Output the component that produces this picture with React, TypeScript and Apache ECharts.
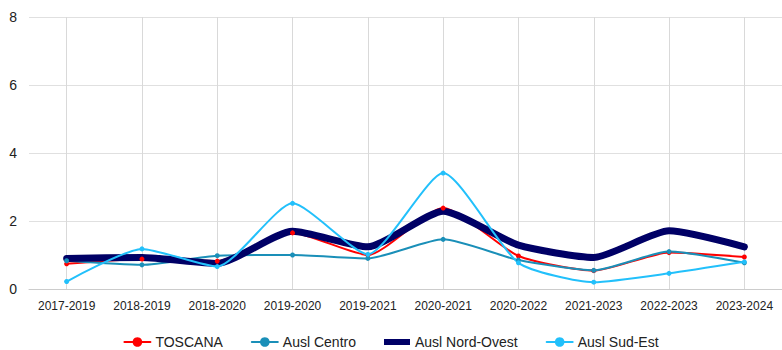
import React, { useEffect, useRef } from "react";
import * as echarts from "echarts";

const categories = [
  "2017-2019", "2018-2019", "2018-2020", "2019-2020", "2019-2021",
  "2020-2021", "2020-2022", "2021-2023", "2022-2023", "2023-2024",
];
const toscana = [0.74, 0.88, 0.82, 1.65, 1.0, 2.38, 0.97, 0.54, 1.07, 0.94];
const auslCentro = [0.83, 0.71, 0.98, 1.0, 0.9, 1.46, 0.85, 0.55, 1.1, 0.77];
const auslNordOvest = [0.9, 0.93, 0.75, 1.7, 1.24, 2.29, 1.29, 0.93, 1.71, 1.24];
const auslSudEst = [0.22, 1.18, 0.66, 2.52, 1.02, 3.41, 0.77, 0.2, 0.46, 0.8];
const seriesNames = ["TOSCANA", "Ausl Centro", "Ausl Nord-Ovest", "Ausl Sud-Est"];

export default function App() {
  const ref = useRef<HTMLDivElement>(null);
  useEffect(() => {
    if (!ref.current) return;
    const chart = echarts.init(ref.current, undefined, { renderer: "svg" });
    const font = "Liberation Sans, Arial, sans-serif";
    const mk = (name: string, data: number[], color: string, width: number, symbolSize: number, showSymbol = true) => ({
      name,
      type: "line",
      data,
      smooth: 0.2,
      symbol: "circle",
      symbolSize,
      showSymbol,
      lineStyle: { color, width, cap: "round", join: "round" },
      itemStyle: { color },
    });
    chart.setOption({
      animation: false,
      textStyle: { fontFamily: font },
      grid: { left: 29, right: -6, top: 17, bottom: 61, containLabel: false },
      legend: {
        top: 334,
        left: "center",
        padding: 0,
        itemWidth: 26,
        itemHeight: 12,
        itemGap: 28,
        symbolKeepAspect: true,
        textStyle: { fontSize: 14, color: "#222", fontFamily: font, lineHeight: 16 },
        data: [
          { name: seriesNames[0] },
          { name: seriesNames[1] },
          { name: seriesNames[2], icon: "path://M0 0H26V6H0Z" },
          { name: seriesNames[3] },
        ],
      },
      xAxis: {
        type: "category",
        data: categories,
        boundaryGap: true,
        axisLine: { show: true, lineStyle: { color: "#cccccc", width: 1 } },
        axisTick: { show: false, alignWithLabel: true },
        axisLabel: { color: "#222", fontSize: 12, margin: 11, interval: 0, fontFamily: font },
        splitLine: { show: true, alignWithLabel: true, lineStyle: { color: "#d9d9d9", width: 1 } },
      },
      yAxis: {
        type: "value",
        min: 0,
        max: 8,
        interval: 2,
        axisLine: { show: false },
        axisTick: { show: false },
        axisLabel: { color: "#222", fontSize: 14, margin: 12, fontFamily: font },
        splitLine: { lineStyle: { color: "#e0e0e0", width: 1 } },
      },
      series: [
        mk(seriesNames[0], toscana, "#ff0000", 2, 5),
        mk(seriesNames[1], auslCentro, "#1a8fb8", 2, 5),
        mk(seriesNames[2], auslNordOvest, "#000066", 7, 4, false),
        mk(seriesNames[3], auslSudEst, "#22c0fb", 2, 5),
      ],
    });
    return () => chart.dispose();
  }, []);
  return (
    <div
      ref={ref}
      style={{ position: "absolute", left: 0, top: 0, width: 782, height: 350, background: "#fff" }}
    />
  );
}
